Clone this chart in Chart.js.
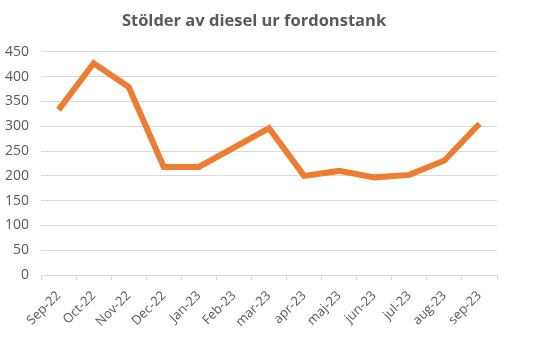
<!DOCTYPE html>
<html>
<head>
<meta charset="utf-8">
<script src="https://cdn.jsdelivr.net/npm/chart.js@4/dist/chart.umd.min.js"></script>
<style>
  html, body { margin: 0; padding: 0; background: #fff; }
  #wrap { width: 549px; height: 351px; }
</style>
</head>
<body>
<div id="wrap"><canvas id="chart"></canvas></div>
<script>
// Data
const months = ['Sep-22', 'Oct-22', 'Nov-22', 'Dec-22', 'Jan-23', 'Feb-23', 'mar-23',
                'apr-23', 'maj-23', 'jun-23', 'jul-23', 'aug-23', 'sep-23'];
const thefts = [333, 427, 379, 218, 218, 257, 296, 200, 210, 197, 202, 231, 305];
const yMin = 0;
const yMax = 450;
const yStep = 50;

const gray = '#595959';
const font = "'Open Sans', sans-serif";

new Chart(document.getElementById('chart'), {
    type: 'line',
    data: {
        labels: months,
        datasets: [{
            label: 'Stölder',
            data: thefts,
            borderColor: '#ED7D31',
            borderWidth: 6,
            pointRadius: 0,
            tension: 0,
            fill: false
        }]
    },
    options: {
        responsive: true,
        maintainAspectRatio: false,
        animation: false,
        layout: { padding: { left: -7, right: 34, top: 11, bottom: 13 } },
        plugins: {
            legend: { display: false },
            tooltip: { enabled: false },
            title: {
                display: true,
                text: 'Stölder av diesel ur fordonstank',
                color: gray,
                font: { size: 16.5, weight: 'bold', family: font },
                padding: { top: 0, bottom: 21 }
            }
        },
        scales: {
            x: {
                offset: true,
                grid: {
                    offset: true,
                    drawOnChartArea: false,
                    drawTicks: true,
                    tickLength: 5,
                    color: '#d9d9d9'
                },
                border: { color: '#d9d9d9' },
                ticks: {
                    color: gray,
                    font: { size: 13, family: font },
                    maxRotation: 45,
                    minRotation: 45,
                    autoSkip: false,
                    padding: 8
                }
            },
            y: {
                min: yMin,
                max: yMax,
                grid: { color: '#d9d9d9', drawTicks: false },
                border: { display: false },
                ticks: {
                    stepSize: yStep,
                    color: gray,
                    font: { size: 14, family: font },
                    padding: 12
                }
            },
            // tom högeraxel, bara för att hålla luft till höger
            yRight: {
                display: true,
                position: 'right',
                grid: { display: false },
                border: { display: false },
                ticks: { display: false },
                afterFit: function(scale) { scale.width = 18; }
            }
        }
    }
});
</script>
</body>
</html>
